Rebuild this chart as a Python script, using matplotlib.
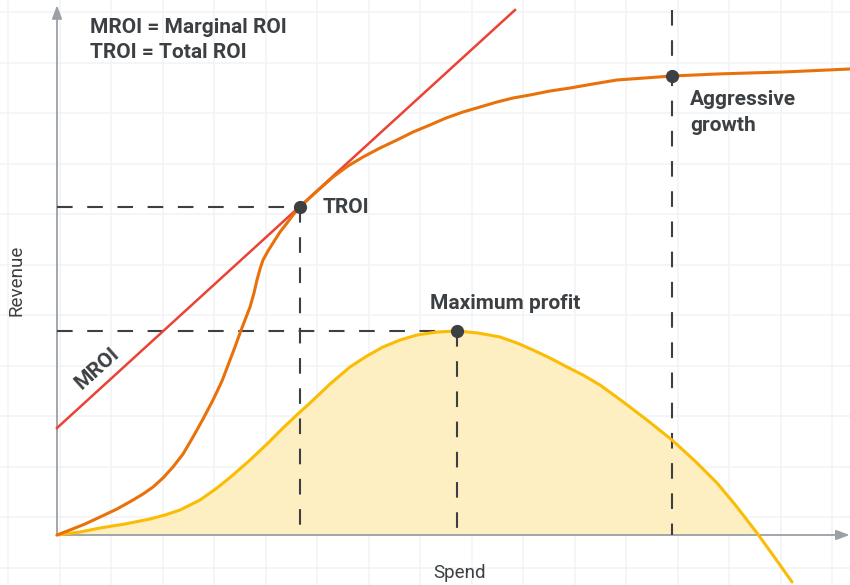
import numpy as np
import matplotlib
matplotlib.use("Agg")
import matplotlib.pyplot as plt

plt.rcParams['font.family'] = ['Roboto', 'DejaVu Sans']

# ---- data (spend / revenue units) ----
revenue_x = [0, 0.252, 0.544, 0.835, 1.165, 1.476, 1.670, 1.864, 2.058, 2.252, 2.447, 2.641,
             2.835, 3.029, 3.204, 3.359, 3.456, 3.553, 3.650, 3.748, 3.825, 3.883, 3.942,
             4.000, 4.097, 4.194, 4.330, 4.466, 4.583, 4.718, 5.010, 5.359, 5.650, 5.942,
             6.272, 6.602, 6.913, 7.243, 7.553, 7.883, 8.214, 8.544, 8.854, 9.184, 9.573,
             9.961, 10.408, 10.874, 11.417, 11.942, 12.388, 12.816, 13.456, 14.097, 14.757,
             15.398]
revenue_y = [0, 0.099, 0.218, 0.356, 0.515, 0.693, 0.812, 0.950, 1.129, 1.347, 1.604, 1.941,
             2.297, 2.673, 3.050, 3.465, 3.723, 4.000, 4.257, 4.515, 4.792, 5.050, 5.267,
             5.446, 5.624, 5.782, 6.000, 6.178, 6.337, 6.495, 6.772, 7.089, 7.307, 7.485,
             7.663, 7.822, 7.980, 8.119, 8.257, 8.376, 8.475, 8.574, 8.653, 8.713, 8.792,
             8.851, 8.931, 9.010, 9.050, 9.089, 9.109, 9.129, 9.149, 9.168, 9.198, 9.228]

profit_x = [0, 0.447, 0.835, 1.320, 1.806, 2.097, 2.388, 2.777, 3.107, 3.417, 3.748, 4.078,
            4.388, 4.718, 4.913, 5.301, 5.689, 6.019, 6.330, 6.660, 6.990, 7.379, 7.767,
            8.175, 8.602, 8.932, 9.243, 9.573, 9.903, 10.214, 10.544, 10.971, 11.456, 11.942,
            12.388, 12.816, 13.204, 13.592, 13.942, 14.272]
profit_y = [0, 0.059, 0.139, 0.218, 0.317, 0.396, 0.495, 0.693, 0.931, 1.188, 1.485, 1.802,
            2.119, 2.436, 2.614, 2.990, 3.327, 3.545, 3.723, 3.861, 3.960, 4.020, 4.040,
            4.000, 3.921, 3.802, 3.663, 3.505, 3.327, 3.168, 2.970, 2.653, 2.277, 1.881,
            1.465, 1.030, 0.554, 0.040, -0.455, -0.931]

mroi_x = [0, 8.893]
mroi_y = [2.119, 10.396]

troi_pt = (4.718, 6.495)
maxprofit_pt = (7.767, 4.040)
aggressive_pt = (11.942, 9.089)

# ---- styles ----
C_ORANGE = '#E8710A'
C_RED = '#EA4335'
C_YELLOW = '#FBBC04'
C_FILL = '#FEEFC3'
C_DARK = '#3C4043'
C_AXIS = '#9AA0A6'
C_GRID = '#F1F3F4'

fig = plt.figure(figsize=(8.5, 5.85), dpi=100)
ax = fig.add_axes([0, 0, 1, 1])
ax.set_xlim(-1.107, 15.398)
ax.set_ylim(-0.990, 10.594)
for s in ax.spines.values():
    s.set_visible(False)

ax.set_xticks(np.arange(-0.951, 15.4, 1.0))
ax.set_yticks(np.arange(-0.644, 10.6, 1.0))
ax.tick_params(length=0, labelbottom=False, labelleft=False)
ax.grid(True, color=C_GRID, linewidth=1.1, zorder=0)
ax.set_axisbelow(True)

# axes arrows
ax.annotate('', xy=(0, 10.49), xytext=(0, 0),
            arrowprops=dict(arrowstyle='-|>,head_length=0.8,head_width=0.3', color=C_AXIS,
                            lw=1.3, shrinkA=0, shrinkB=0), zorder=2)
ax.annotate('', xy=(15.39, 0), xytext=(0, 0),
            arrowprops=dict(arrowstyle='-|>,head_length=0.8,head_width=0.3', color=C_AXIS,
                            lw=1.3, shrinkA=0, shrinkB=0), zorder=2)

# profit fill
px = np.array(profit_x)
py = np.array(profit_y)
ax.fill_between(px, py, 0, where=py >= 0, interpolate=True, color=C_FILL, lw=0, zorder=1)

# dashed guide lines
dash = dict(color=C_DARK, lw=1.5, linestyle=(0, (7.5, 7.0)), zorder=2)
ax.plot([0, troi_pt[0]], [troi_pt[1], troi_pt[1]], **dash)
ax.plot([troi_pt[0], troi_pt[0]], [troi_pt[1], 0], **dash)
ax.plot([0, maxprofit_pt[0]], [maxprofit_pt[1], maxprofit_pt[1]], **dash)
ax.plot([maxprofit_pt[0], maxprofit_pt[0]], [maxprofit_pt[1], 0], **dash)
ax.plot([aggressive_pt[0], aggressive_pt[0]], [10.40, 0], **dash)

# curves
ax.plot(profit_x, profit_y, color=C_YELLOW, lw=2.2, zorder=3, solid_capstyle='round',
        solid_joinstyle='round')
ax.plot(mroi_x, mroi_y, color=C_RED, lw=1.8, zorder=3)
ax.plot(revenue_x, revenue_y, color=C_ORANGE, lw=2.2, zorder=3, solid_capstyle='round',
        solid_joinstyle='round')

# markers
for pt in (troi_pt, maxprofit_pt, aggressive_pt):
    ax.plot(pt[0], pt[1], 'o', color=C_DARK, markersize=8.5, zorder=4)

# texts
tkw = dict(color=C_DARK, fontweight='semibold', fontsize=15)
ax.text(0.641, 10.059, 'MROI = Marginal ROI', ha='left', va='center', **tkw)
ax.text(0.641, 9.545, 'TROI = Total ROI', ha='left', va='center', **tkw)
ax.text(5.165, 6.495, 'TROI', ha='left', va='center', **tkw)
ax.text(8.699, 4.594, 'Maximum profit', ha='center', va='center', **tkw)
ax.text(12.291, 8.614, 'Aggressive', ha='left', va='center', **tkw)
ax.text(12.291, 8.099, 'growth', ha='left', va='center', **tkw)
ax.text(0.777, 3.307, 'MROI', ha='center', va='center', rotation=42,
        rotation_mode='anchor', **tkw)

ax.text(-0.796, 5.050, 'Revenue', ha='center', va='center', rotation=90,
        color=C_DARK, fontsize=13.5)
ax.text(7.825, -0.752, 'Spend', ha='center', va='center', color=C_DARK, fontsize=13.5)

fig.savefig('out.png', dpi=100)
